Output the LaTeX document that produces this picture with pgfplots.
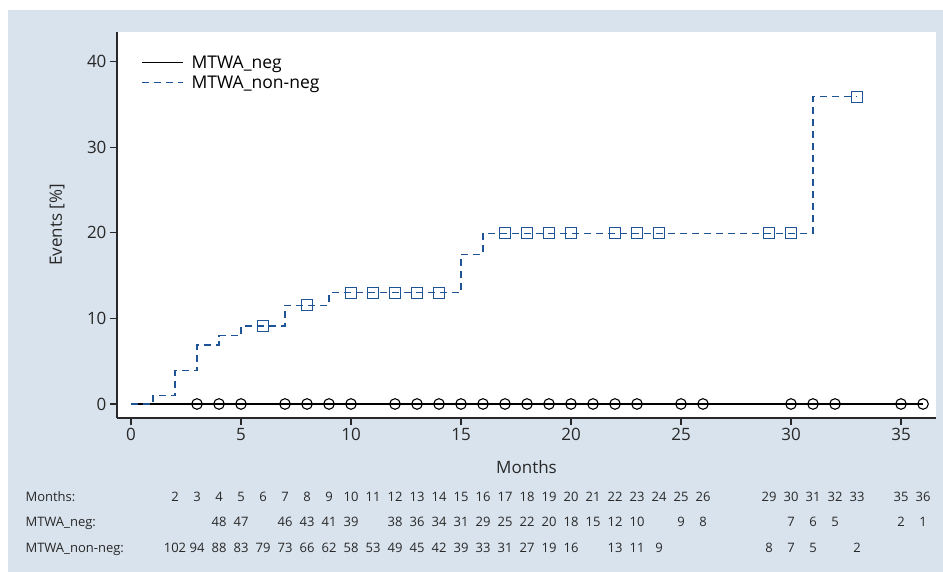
\documentclass[border=0pt]{standalone}
\usepackage{pgfplots}
\pgfplotsset{compat=1.18}
\usepackage{fontspec}
\setmainfont{Open Sans}
\definecolor{bg}{RGB}{217,227,237}
\definecolor{sblue}{RGB}{30,84,150}
\definecolor{axc}{RGB}{40,40,40}

\begin{document}
\begin{tikzpicture}[x=1pt,y=1pt]
\path[use as bounding box] (0,0) rectangle (943,572);
\fill[bg] (8,0) rectangle (943,562);
\begin{axis}[
  at={(117pt,154pt)}, anchor=south west,
  scale only axis, width=819pt, height=386pt,
  xmin=-0.636, xmax=36.59, ymin=-1.636, ymax=43.46,
  axis lines*=left,
  axis line style={-, line width=1.1pt, axc},
  axis background/.style={fill=white},
  tick align=outside, major tick length=7pt,
  tick style={line width=1.1pt, axc},
  xtick={0,5,...,35}, ytick={0,10,20,30,40},
  ticklabel style={font=\fontsize{17}{20}\selectfont, text=axc},
  /pgf/number format/assume math mode=true,
  xlabel={Months}, ylabel={Events [\%]},
  every axis x label/.style={at={(axis description cs:0.5,-0.127)}, anchor=center,
    font=\fontsize{17}{20}\selectfont, text=axc},
  every axis y label/.style={at={(axis description cs:-0.0733,0.5)}, rotate=90, anchor=center,
    font=\fontsize{17}{20}\selectfont, text=axc},
  legend style={at={(axis description cs:0.026,0.95)}, anchor=north west,
    draw=none, fill=none, font=\fontsize{17.5}{21}\selectfont,
    row sep=2pt},
  legend cell align=left,
  legend image code/.code={\draw[#1] (0pt,0pt) -- (41pt,0pt);},
  clip=false,
]
\addplot[black, line width=1.2pt] coordinates {(0,0) (36,0)};
\addplot[color=sblue, line width=1.2pt, dash pattern=on 7pt off 5pt, const plot]
  coordinates {(0,0) (1,0.97) (2,3.89) (3,6.89) (4,7.98) (5,9.11) (7,11.53)
  (9,13.0) (15,17.49) (16,19.94) (31,35.9) (33,35.9)};
\addplot[only marks, mark=o, mark size=5.3pt,
  mark options={black, fill=white, line width=1.1pt}, forget plot]
  coordinates {(3,0) (4,0) (5,0) (7,0) (8,0) (9,0) (10,0) (12,0) (13,0) (14,0)
  (15,0) (16,0) (17,0) (18,0) (19,0) (20,0) (21,0) (22,0) (23,0) (25,0) (26,0)
  (30,0) (31,0) (32,0) (35,0) (36,0)};
\addplot[only marks, mark=square, mark size=5.5pt, color=sblue,
  mark options={line width=1.2pt, solid}, forget plot]
  coordinates {(6,9.11) (8,11.53) (10,13.0) (11,13.0) (12,13.0) (13,13.0) (14,13.0)
  (17,19.94) (18,19.94) (19,19.94) (20,19.94) (22,19.94) (23,19.94) (24,19.94)
  (29,19.94) (30,19.94) (33,35.9)};
\legend{\hspace{6pt}MTWA\_neg, \hspace{6pt}MTWA\_non-neg}
\end{axis}
\begin{scope}[font=\fontsize{13}{15}\selectfont, text=axc]
\node[anchor=base west] at (22,70.5) {Months:};
\node[anchor=base west] at (22,45.5) {MTWA\_neg:};
\node[anchor=base west] at (22,19.5) {MTWA\_non-neg:};
\foreach \m in {2,3,...,26,29,30,31,32,33,35,36}
  \node[anchor=base] at ({131+22*\m},70.5) {\m};
\foreach \m/\v in {4/48,5/47,7/46,8/43,9/41,10/39,12/38,13/36,14/34,15/31,16/29,
  17/25,18/22,19/20,20/18,21/15,22/12,23/10,25/9,26/8,30/7,31/6,32/5,35/2,36/1}
  \node[anchor=base] at ({131+22*\m},45.5) {\v};
\foreach \m/\v in {2/102,3/94,4/88,5/83,6/79,7/73,8/66,9/62,10/58,11/53,12/49,
  13/45,14/42,15/39,16/33,17/31,18/27,19/19,20/16,22/13,23/11,24/9,29/8,30/7,
  31/5,33/2}
  \node[anchor=base] at ({131+22*\m},19.5) {\v};
\end{scope}
\end{tikzpicture}
\end{document}
